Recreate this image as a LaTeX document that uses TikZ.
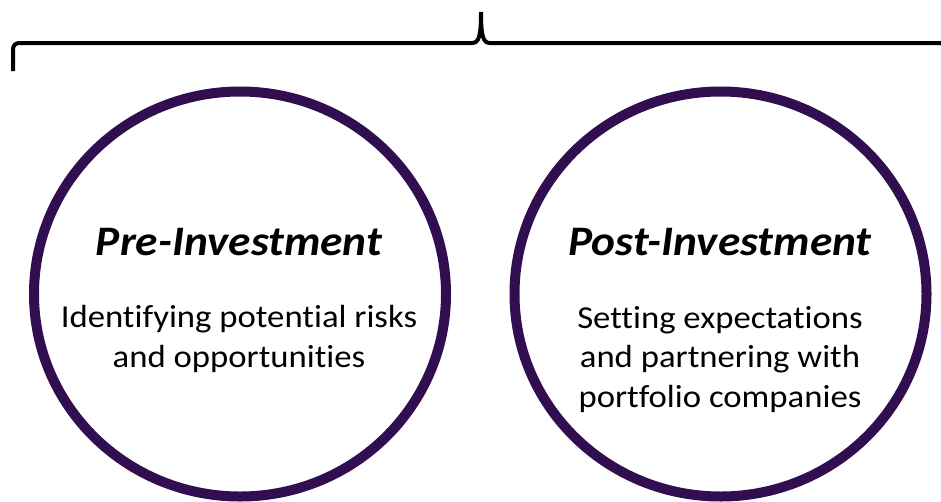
\documentclass[tikz,border=0pt]{standalone}
\usepackage{fontspec}
\setmainfont{Carlito}[Ligatures=NoCommon]
\usetikzlibrary{shapes.geometric}
\definecolor{ringpurple}{RGB}{48,14,80}

\begin{document}
\begin{tikzpicture}[x=1pt, y=-1pt,
		phase/.style={
			draw=ringpurple,
			line width=10pt,
			ellipse,
			minimum width=412pt,
			minimum height=405pt,
			inner sep=0pt},
		title/.style={
			font=\addfontfeature{FakeStretch=1.08}\fontsize{42}{50}\selectfont\bfseries\itshape,
			anchor=base},
		blurb/.style={
			font=\addfontfeature{FakeStretch=1.085}\fontsize{32}{39.5}\selectfont,
			align=center,
			anchor=base}]
		\useasboundingbox (0,0) rectangle (941,501);

		% the two phases
		\node (pre) [phase] at (240,294) {};
		\node (post) [phase] at (720.5,294) {};

		\node (pretitle) [title] at (239,255) {Pre-Investment};
		\node (posttitle) [title] at (720,255) {Post-Investment};

		\node (preblurb) [blurb] at (239,367) {Identifying potential risks\\and opportunities};
		\node (postblurb) [blurb] at (720,407) {Setting expectations\\and partnering with\\portfolio companies};

		% brace over both phases
		\coordinate (bleft) at (13,71);
		\coordinate (btip) at (481,12);
		\coordinate (bright) at (945,43);
		\draw [line width=4pt, rounded corners=6pt] (bleft) -- (13,43) -- (472,43);
		\draw [line width=4pt] (472,43) .. controls (479,43) and (481,36) .. (btip)
			.. controls (481,36) and (483,43) .. (490,43) -- (bright);
	\end{tikzpicture}
\end{document}
